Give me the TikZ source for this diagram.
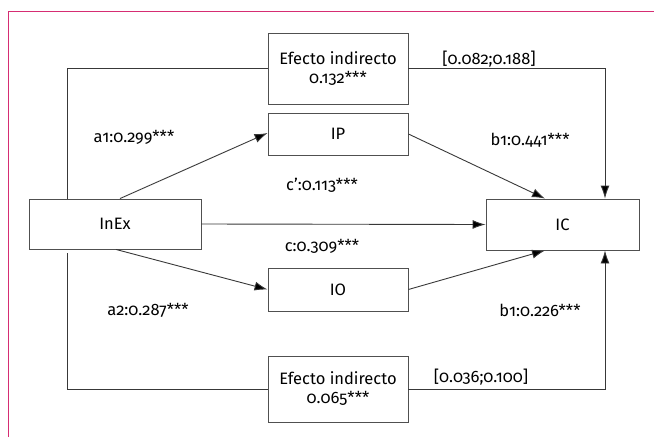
\documentclass[tikz,border=0pt]{standalone}
\usepackage{fontspec}
\setmainfont{Fira Sans}[Numbers=OldStyle]
\usetikzlibrary{arrows.meta}
\definecolor{framepink}{RGB}{214,45,115}
\definecolor{boxgray}{RGB}{80,80,80}
\begin{document}
\begin{tikzpicture}[x=1pt,y=-1pt,font=\fontsize{16.5}{19}\selectfont,
	box/.style={draw=boxgray, line width=0.9pt, align=center, inner sep=1pt},
	link/.style={draw=boxgray!70!black, line width=0.9pt},
	arr/.style={link, -{Latex[length=13pt,width=9pt,fill=black]}}]
	\useasboundingbox (0,0) rectangle (654,437);
	\draw [framepink, line width=1pt] (8,437) -- (8,11) -- (654,11);

	\node [box, minimum width=140pt, minimum height=71pt] (eitop) at (338,68.5) {Efecto indirecto\\0.132***};
	\node [box, minimum width=140pt, minimum height=42pt] (ip) at (338,134) {IP};
	\node [box, minimum width=172pt, minimum height=50pt] (inex) at (115,224) {InEx};
	\node [box, minimum width=153pt, minimum height=51pt] (ic) at (562.5,224.5) {IC};
	\node [box, minimum width=140pt, minimum height=43pt] (io) at (338,289.5) {IO};
	\node [box, minimum width=140pt, minimum height=66pt] (eibot) at (338,389) {Efecto indirecto\\0.065***};

	\node (a1) at (134,137) {a1:0.299***};
	\node (b1) at (530,140) {b1:0.441***};
	\node (cp) at (322,185) {c\char"0027:0.113***};
	\node (c) at (322,246) {c:0.309***};
	\node (a2) at (148,310) {a2:0.287***};
	\node (b2) at (540,310) {b1:0.226***};
	\node (ci1) at (489,59) {[0.082;0.188]};
	\node (ci2) at (481,377) {[0.036;0.100]};

	\draw [link] ([xshift=-48pt]inex.north) |- (eitop.west);
	\draw [arr] (eitop.east) -| ([xshift=42.5pt]ic.north);
	\draw [link] ([xshift=-48pt,yshift=-4pt]inex.south) |- (eibot.west);
	\draw [arr] (eibot.east) -| ([xshift=42.5pt]ic.south);

	\draw [arr] ([xshift=5pt]inex.north) -- ([yshift=1pt]ip.west);
	\draw [arr] ([xshift=1pt]inex.south) -- (io.west);
	\draw [arr] (inex.east) -- (ic.west);
	\draw [arr] (ip.east) -- ([xshift=-17.5pt]ic.north);
	\draw [arr] (io.east) -- ([xshift=-17.5pt]ic.south);
\end{tikzpicture}
\end{document}
